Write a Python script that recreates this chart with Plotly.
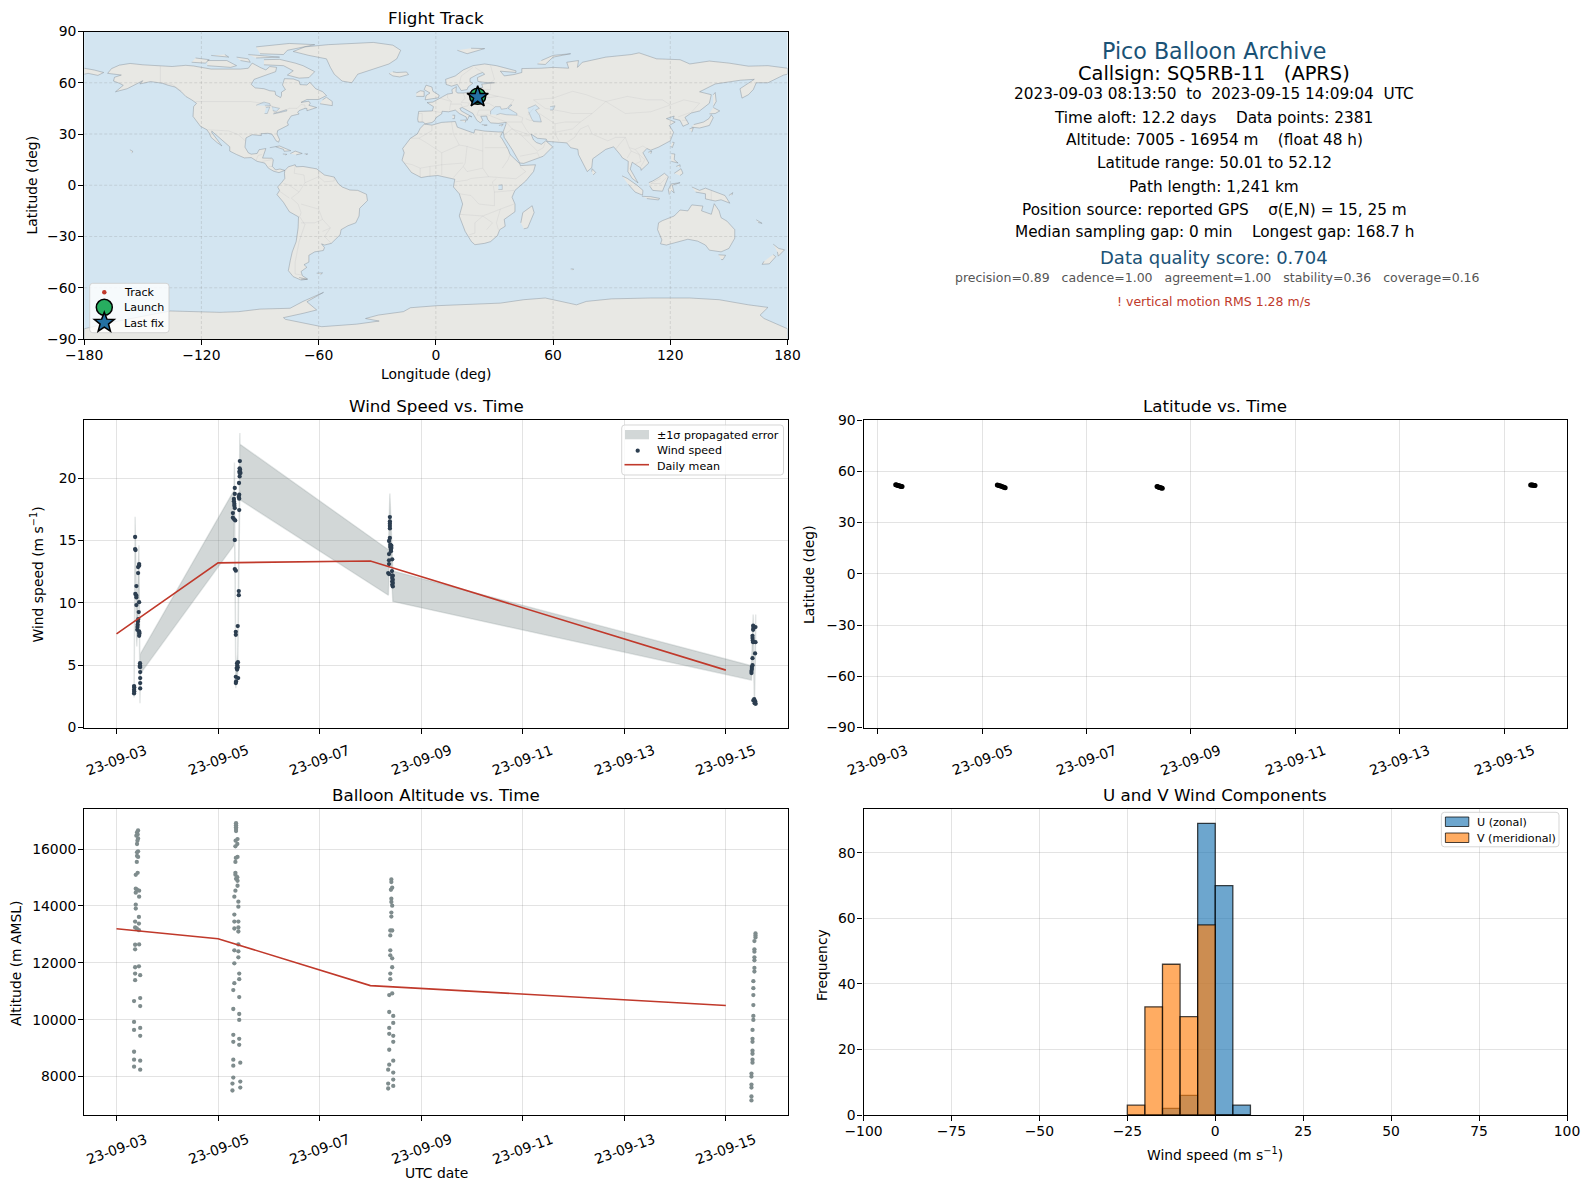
import math
import pandas as pd
import plotly.graph_objects as go

W, H = 1589, 1189
FONT = "DejaVu Sans"
RED = "#C0392B"
NAVY = "#2C3E50"
SLATE = "#7F8C8D"
BLUE = "#1A5276"
OCEAN = "#D3E5F1"
LAND = "#E8E8E4"
GREEN = "#27AE60"
STAR = "#2471A3"
BAND = "rgba(127,140,141,0.35)"
BAND_EDGE = "rgba(127,140,141,0.22)"
U_FILL = "rgba(31,119,180,0.65)"
V_FILL = "rgba(255,127,14,0.65)"
EDGE = "rgba(0,0,0,0.72)"
GRID = "rgba(128,128,128,0.22)"
BASE = pd.Timestamp("2023-09-03")

# ---------- time-series data (hours since 2023-09-03 00:00) ----------
wind_hours = [8.3,8.4,8.3,8.4,8.3, 8.8,8.8,9.0, 9.4,8.9,9.4,9.4,10.7,9.4,10.7,10.2,10.2,10.7,10.5,10.3,10.1,10.0,9.9,9.8,
              11.1,11.1,11.0,11.2,11.2,11.2,11.2,11.2,
              10.7,10.8,10.7,10.8,
              58.3,58.2,58.4,58.1,58.6,58.2,58.2,57.9,55.9,55.9,58.0,57.8,58.0,55.5,55.5,55.7,55.7,55.9,58.0,55.0,55.0,55.5,56.1,55.9,
              55.9,56.4,57.8,57.8,57.3,56.4,56.4,57.4,57.0,57.1,56.8,57.3,57.0,56.4,57.5,56.5,56.4,
              129.2,129.2,129.2,129.2,129.2,129.2,128.8,129.4,129.9,129.4,129.9,129.7,129.7,128.8,130.3,128.8,128.8,130.2,128.4,128.8,130.3,130.6,130.3,130.6,130.3,130.6,130.3,130.6,
              300.9,302.0,301.0,300.9,300.6,300.6,300.7,300.9,302.0,301.8,300.6,300.6,300.3,300.3,300.1,300.1,301.4,301.0,301.9,301.6,302.1]
wind_speed = [2.73,2.89,3.02,3.21,3.32, 15.27,14.3,14.22, 11.34,10.7,10.56,10.43,13.1,9.81,12.97,12.86,12.38,10.05,9.25,8.69,8.5,8.24,8.05,7.83,
              5.16,4.97,4.87,4.84,4.44,3.96,3.56,3.13,
              7.7,7.51,7.35,7.6,
              21.36,20.78,20.67,20.53,20.4,20.4,20.13,19.6,19.2,18.72,18.66,18.48,18.34,18.32,18.13,17.94,17.78,17.59,17.43,17.19,16.82,16.71,16.6,15.03,
              12.7,12.57,10.94,10.61,8.13,7.67,7.43,5.24,5.16,4.97,4.76,4.81,4.65,4.06,3.96,3.69,3.56,
              16.87,16.52,16.34,16.15,15.96,15.19,14.95,14.65,14.57,14.47,14.39,14.25,14.12,13.9,13.48,13.4,13.1,12.54,12.38,12.3,12.17,12.17,11.98,11.84,11.71,11.58,11.44,11.31,
              8.16,8.05,7.97,7.83,7.35,7.17,6.98,6.84,6.84,5.94,5.56,5.0,4.84,4.68,4.52,4.36,2.27,2.17,2.09,1.95,1.9]

band_hours = [8.3,8.8,9.6,10.6,11.1,11.25,55.5,55.75,56.4,57.3,58.3,58.4,128.5,129.2,130.6,300.1,300.9,301.5,302.1]
band_upper = [3.3,16.9,8.3,14.6,3.9,5.9,19.0,21.25,4.2,5.9,23.6,22.7,14.25,18.75,12.55,4.95,9.05,2.6,9.05]
band_lower = [2.4,13.7,6.5,11.5,1.95,4.3,14.6,17.2,3.15,4.4,19.0,18.25,10.6,15.0,10.1,3.8,7.0,1.7,7.0]

daily_dates = ["2023-09-03", "2023-09-05", "2023-09-08", "2023-09-15"]
daily_wind = [7.5, 13.2, 13.35, 4.6]
daily_alt = [13200, 12850, 11200, 10500]

alt_hours = [10.2,9.7,10.0,9.4,10.2,9.9,9.7,10.2,9.7,9.7,10.2,9.6,10.0,9.1,9.1,9.7,10.7,9.1,10.7,9.1,9.1,10.6,8.8,10.6,8.8,9.6,10.6,
             10.7,8.8,8.8,10.6,8.8,8.8,11.2,8.8,11.2,8.3,11.2,8.3,11.2,8.3,11.2,8.3,8.3,11.2,8.3,11.2,
             56.5,56.5,56.5,56.5,56.5,57.2,56.3,57.1,56.2,57.2,56.4,56.2,56.2,56.2,57.1,56.5,57.2,57.2,56.2,55.7,57.6,57.6,55.7,55.7,57.6,55.7,57.6,57.6,
             57.6,55.7,57.6,57.6,55.7,58.0,58.0,55.7,55.2,58.0,55.2,58.0,58.0,55.2,58.0,55.2,58.0,55.2,58.5,55.2,55.2,58.5,54.8,58.5,54.8,
             129.9,129.9,130.3,129.7,129.9,129.9,130.3,129.9,129.9,129.4,130.3,129.4,129.4,129.4,130.3,130.3,129.4,129.4,130.3,128.9,128.9,130.8,130.8,128.9,128.9,130.8,130.8,128.9,130.8,128.9,128.4,130.8,130.8,130.8,128.4,128.4,
             302.0,302.0,302.0,301.5,301.5,301.5,301.5,301.5,301.5,301.5,301.0,301.0,301.0,301.0,301.0,301.0,300.6,300.6,300.6,300.6,300.6,300.6,300.6,300.1,300.1,300.1,300.1,300.1,300.1]
alt_m = [16656,16586,16516,16470,16376,16295,16178,15922,15887,15759,15724,15549,15165,15095,14606,14571,14536,14466,14326,14046,13907,13615,13452,13382,13243,13208,13149,
         12648,12637,12474,11879,11845,11623,11565,11390,10761,10656,10481,9922,9713,9643,9433,8874,8594,8559,8350,8245,
         16912,16842,16772,16703,16633,16353,16295,16178,16097,15724,15689,15549,15165,15095,15013,14955,14885,14710,14536,14326,14151,13976,13697,13452,13452,13208,13243,13103,
         12648,12439,12404,12194,11984,11623,11425,11285,11041,10796,10377,10202,9992,9468,9328,9223,9118,8594,8489,8384,7965,7825,7755,7616,7511,
         14932,14839,14640,14571,14256,14140,14011,13767,13627,13138,13138,12963,12439,12264,12159,11845,11623,11425,10924,10866,10272,10132,9887,9713,9503,9433,9223,8944,8559,8419,8245,8140,7895,7674,7755,7581,
         13033,12963,12893,12765,12474,12392,12194,12089,11821,11693,11355,11110,10866,10516,10132,9992,9643,9328,9223,8909,8804,8594,8489,8105,8000,7720,7616,7301,7161]

lat_hours = [8.3,8.8,9.3,9.8,10.3,10.8,11.2, 55.0,55.6,56.2,56.8,57.4,58.0,58.6, 128.4,128.8,129.2,129.6,130.0,130.4,130.8, 300.1,300.5,300.9,301.3,301.7,302.1]
lat_deg = [52.1,51.9,51.7,51.5,51.3,51.1,51.0, 51.9,51.7,51.5,51.2,50.9,50.6,50.4, 51.0,50.9,50.7,50.5,50.4,50.2,50.1, 52.0,52.0,51.9,51.8,51.7,51.6]

# ---------- histogram ----------
bin_centres = [-22.5, -17.5, -12.5, -7.5, -2.5, 2.5, 7.5]
u_counts = [0, 0, 2, 6, 89, 70, 3]
v_counts = [3, 33, 46, 30, 58, 0, 0]

# ---------- map ----------
track_lon = [19.9, 20.2, 20.5, 20.8, 21.1, 21.3, 21.4]
track_lat = [50.0, 50.3, 50.6, 50.9, 51.3, 51.6, 51.9]
launch_lon, launch_lat = [21.4], [52.1]
last_lon, last_lat = [21.4], [51.7]

land_polys = [
 # North America
 [(-168,65.5),(-166,68.3),(-162,70.3),(-156.5,71.3),(-150,70.5),(-141,69.7),(-135,69.5),(-128,70.2),(-124,69.8),(-115,68),(-108,68),(-100,68),(-96,68.5),(-94,71.5),(-90,69),(-87,67.5),(-85,69.5),(-81.5,69),(-82,66.5),(-87,64.5),(-90,63.5),(-93,62),(-94.5,59),(-92.5,57),(-88,56.5),(-85,55.3),(-82.3,55),(-82,52.9),(-79.5,51.3),(-79,52.5),(-79,54.5),(-77,56),(-78.5,58.7),(-77.5,62.4),(-73,62.2),(-70,61),(-69.5,58.9),(-66,58.7),(-64.5,60.3),(-61.5,56.5),(-58,54.8),(-56,52.5),(-60,50.2),(-66,50.2),(-69,48.5),(-65,49.2),(-64.3,48),(-65,46.8),(-61,45.5),(-63.5,44.6),(-66,43.6),(-66,45),(-67,45),(-70,43.7),(-70.7,42.7),(-70,41.7),(-74,40.6),(-75.5,38),(-76,36.8),(-75.5,35.2),(-78,33.8),(-81,32),(-81.3,30),(-80,26.8),(-80.5,25.2),(-81.8,26),(-82.8,28),(-84,30),(-86,30.4),(-89.5,30.2),(-89.3,29.1),(-91.5,29.5),(-94,29.6),(-97.2,27.7),(-97.7,24),(-97.7,22.3),(-96,19),(-94.5,18.2),(-91.5,18.6),(-90.5,20.8),(-87,21.5),(-87.8,18.2),(-88.7,15.9),(-84,15.8),(-83.2,15),(-83.7,11),(-82,9),(-79.8,9.5),(-77.3,8.7),(-78.2,8.3),(-80.3,7.4),(-83,8.2),(-85.7,10),(-87.6,13),(-91.5,14),(-94.5,16.2),(-98,16),(-102,18),(-105.5,20),(-105.5,22.5),(-109,26),(-112.5,29.5),(-114.7,31.7),(-114.7,30.9),(-112,27),(-110,24),(-109.5,23),(-112,25),(-115,28),(-116,30.5),(-117.2,32.5),(-120.5,34.5),(-122.5,37.5),(-124.3,40.3),(-124,46),(-122.5,48),(-125,50),(-128,52),(-130.3,54.7),(-133.5,57.5),(-137,58.5),(-140,59.7),(-146,60.7),(-151.5,59.3),(-150,61.2),(-153.5,59),(-158,56.5),(-164,54.7),(-160,58.5),(-162,59.7),(-165,61),(-164.5,63.2),(-161,64.5),(-168,65.5)],
 # South America
 [(-77.3,8.6),(-75.5,10.8),(-72,12),(-71.5,10.8),(-68,11),(-64,10.3),(-61,9.6),(-57,6),(-52,4.8),(-50,1),(-48,-1),(-44,-2.8),(-40,-3),(-35.5,-5.3),(-35,-9),(-39,-13.5),(-39.3,-18),(-41,-22),(-45,-23.7),(-48.5,-26),(-49,-29),(-53.5,-34),(-57,-35),(-58.5,-34.3),(-57,-36.5),(-57.6,-38.2),(-62,-39),(-65,-41),(-65,-45),(-67.5,-46.5),(-66,-48),(-69,-50.5),(-68.3,-53),(-65.5,-55),(-69,-55.5),(-73,-53.5),(-75.5,-50),(-74.5,-44),(-73.5,-39),(-71.5,-33),(-70.5,-25),(-70.3,-18.5),(-75,-15.5),(-78,-10),(-81.3,-5.5),(-80,-3),(-81,-1),(-79,1.5),(-77.3,4),(-77.5,7),(-77.3,8.6)],
 # Africa
 [(-5.9,35.8),(-2,35.2),(3,36.8),(10,37.3),(11,34),(15,32.3),(19.5,30.5),(20,32.6),(25,31.7),(32,31.2),(34.2,31.2),(33,28.5),(34,27),(37,21),(38,18),(43,12.5),(43.3,11.5),(51,12),(50,8),(46,2.5),(40.5,-3),(39,-7),(40.5,-11),(40.5,-15.5),(35,-20),(35.5,-24),(32.7,-26),(31.5,-29.5),(28,-33),(25,-34),(20,-34.8),(18.2,-33),(15,-27),(12,-18),(13.7,-11),(12,-5),(9,-1),(9.7,3.5),(6,4.3),(1,5.7),(-4,5.2),(-7.5,4.5),(-12.5,7.5),(-15,11),(-17.3,14.7),(-16.2,19),(-17,21.5),(-13,27.5),(-9.5,30),(-8,33.3),(-5.9,35.8)],
 # Eurasia
 [(-9,37),(-9.3,38.8),(-8.8,43.2),(-1.8,43.5),(-1.2,46),(-4.5,48.4),(-1.5,48.7),(1.5,50.5),(4,52),(6,53.4),(8.5,53.8),(8.2,56),(10.5,57.7),(10.3,55),(11,54),(14,54),(18.5,54.7),(21,55),(21,57),(24,57.2),(23.5,59.2),(28,59.6),(30,60),(25,60.2),(21.5,60.8),(21.3,63),(25,65),(24,66),(21.5,65),(17.5,62.5),(17.5,60.5),(19,59.8),(16.5,57.5),(16,56),(13,55.4),(11,59),(8,58),(5.3,59),(5,62),(10,64),(14,67.5),(19,70),(25,71),(31,70),(41,67),(41,66),(33,66.8),(35,64),(40,64.8),(44,66),(44,68.3),(54,68.5),(60,69),(68,68.5),(67,72),(73,73),(72.5,69),(75,72),(80.5,73.5),(87,75),(100,76.5),(104,77.5),(113,74),(125,73.5),(130,71),(140,72.7),(150,71.5),(160,69.7),(170,70),(180,68.5),(180,65),(178,64.5),(170,60),(164,60),(162.5,56),(160,53),(156.7,51),(155.7,56.5),(163,62),(156,61.5),(143,59.3),(135,54.7),(141,53),(140,48),(135,43.5),(130.7,42.3),(127.5,39.7),(129.4,36),(126.5,34.5),(125,38),(121.5,39),(122,40.5),(118,39),(122.5,37),(119.5,35),(121.7,31),(120,26),(114,22.3),(110,20.5),(108,21.5),(106,19),(109,13),(105,8.7),(105,10),(100.5,13.5),(99.5,9.5),(103.5,1.4),(100.5,4),(98.3,8),(98.5,14),(95.5,16),(94.3,18),(91,22.5),(87,21),(80.3,15.5),(79.8,10.3),(77.5,8),(73,18),(72.7,21),(69,22),(67,24.8),(62,25.2),(57,25.7),(56.5,27),(52,27.5),(48.7,30),(50,26.5),(51.5,25),(54,24),(56.3,26),(59.8,22.5),(55,17),(45,12.8),(43,13),(39,21),(35,28),(34.5,31.3),(35.8,35.5),(36,36.8),(32,36.2),(28,36.5),(26.5,38.5),(26,40.5),(23,40.3),(24,38),(22.8,36.5),(21,38),(19.5,41),(19,42),(13.5,45.5),(12.3,45),(13,43.5),(16,41.8),(18.5,40),(17,40.5),(16,38),(15.5,40),(12,42),(10,44),(6.5,43),(3.2,43.3),(3,41.8),(0,39.5),(-0.5,38),(-2,36.7),(-5.5,36),(-6.5,37),(-9,37)],
 # Chukotka tip west of the date line
 [(-180,68.5),(-175,67.5),(-170,66),(-173,64.3),(-178,65.5),(-180,65)],
 # Greenland
 [(-73,78.3),(-67,81),(-55,82.3),(-32,83.6),(-22,82),(-18,79),(-20,74),(-24,71),(-32,68),(-40,65),(-43,60),(-48,61),(-52,65),(-54,69),(-56,74),(-65,76),(-73,78.3)],
 # Australia
 [(114,-22),(113.5,-26),(115.7,-32),(115,-34.3),(118,-35),(124,-33),(129,-31.6),(134,-32.7),(138,-35),(140,-38),(146,-39),(150,-37),(153,-31),(153,-26),(149,-21),(146,-19),(145,-15),(142.5,-10.8),(141,-17),(136,-15),(136.7,-12.2),(131,-11.5),(129,-15),(125,-14.5),(122,-18),(116,-20.7),(114,-22)],
 # Antarctica
 [(-180,-90),(-180,-84),(-165,-80),(-150,-76.5),(-136,-73.6),(-110.5,-74.4),(-101,-74),(-90,-72.5),(-74.6,-72),(-68,-68),(-57.5,-62.7),(-66,-68.2),(-61,-73),(-68,-75),(-78,-77.5),(-77,-78.5),(-58.4,-82.8),(-40.5,-81.3),(-29,-79.5),(-36,-78),(-29.5,-76),(-16.6,-74),(-13,-71.7),(0.5,-70.5),(33,-69),(45,-67),(56,-66),(68,-69),(72,-70),(77,-68),(90,-66.5),(110,-66),(130,-66),(145,-67),(160,-70),(170,-71.5),(166,-76),(168,-78),(180,-84),(180,-90)],
 # Islands
 [(-88,73.5),(-80,73.7),(-72,71.5),(-68,70),(-62,66.5),(-65,63),(-70,62.7),(-76,64.5),(-73,67),(-78,70),(-88,70.5)],
 [(-117,70),(-105,69),(-102,70),(-107,73),(-117,73)],
 [(-90,77),(-78,76.5),(-76,79),(-62,82.3),(-75,83),(-92,81)],
 [(-125,72),(-118,71.5),(-116,73.5),(-123,74.5)],
 [(-96,76.5),(-80,75),(-92,74.5)],
 [(-115,76),(-106,75),(-108,76.5)],
 [(-100,73),(-95,72),(-96,74),(-102,75)],
 [(-59.3,47.7),(-53,46.6),(-53,49),(-56,51.5),(-58,50)],
 [(-85,22),(-80,23),(-74.2,20.2),(-77.7,19.9),(-78,21),(-82,22.5)],
 [(-74.5,18.5),(-72,20),(-68.4,18.6),(-71.5,17.8)],
 [(-78.3,18.3),(-76.3,18.1),(-77,17.7)],
 [(-67.2,18.4),(-65.6,18.3),(-66.5,17.9)],
 [(-156.6,20.8),(-155,19.7),(-155.7,19)],
 [(-5.5,50),(1.3,51.2),(1.7,52.7),(-1.5,55),(-2,57.5),(-5,58.6),(-6,56),(-3,54),(-5,52.5),(-5.5,50)],
 [(-10,52),(-6,52),(-6,55),(-8,55.3),(-10,54)],
 [(-24,65.5),(-22,64),(-18.5,63.4),(-14,64.8),(-15,66.3),(-20,66),(-22,66.4)],
 [(11,79),(16,77),(25,80),(18,80.2)],
 [(52,71),(56,70.7),(60,75),(69,77),(60,76),(54,73)],
 [(130.9,34),(135,33.5),(140,35),(142,39.5),(141,41.3),(139.8,39),(137,37),(132,35.5)],
 [(140,41.8),(143,42),(145.3,43.5),(142,45.5)],
 [(129.8,33),(131.8,33.7),(131,31)],
 [(142,46),(143.5,49),(143,54.3),(142,53)],
 [(120.2,23),(121,22),(122,25),(121,25.2)],
 [(108.7,19.3),(110.5,20),(110,18.4)],
 [(79.8,8),(80,9.7),(81.8,7.5),(80.5,6)],
 [(43.5,-22),(44.5,-16),(49.3,-12),(50.3,-16),(47,-25),(45,-25.5)],
 [(95.3,5.5),(98,4),(103,0),(106,-3),(105.8,-5.8),(102,-4),(98.5,0.5)],
 [(105.5,-6.5),(110,-6.7),(114.5,-7.7),(114,-8.6),(108,-7.8)],
 [(109,1.5),(111,2.5),(114,4.5),(117,7),(119,5),(117.7,1),(116,-3.5),(111,-3),(109.5,-0.5)],
 [(119.5,-5.5),(119,-2.5),(120.5,0.8),(125,1.5),(121,0),(122,-4.5),(120.5,-3)],
 [(131,-1),(135,-3),(138,-1.7),(145,-5),(148,-6),(150.5,-10.5),(146,-8.5),(143,-9.2),(138,-8),(138,-5),(133,-4)],
 [(150,-6),(152,-4.3),(151.5,-5.8)],
 [(120.5,18.5),(122.3,18.3),(122,15),(124,13),(120.5,14)],
 [(122,7),(125.5,9.7),(126.5,7),(125,5.7)],
 [(123,11),(125,12),(125,10.5)],
 [(172.7,-34.5),(175.5,-37),(178.5,-37.8),(175.3,-41.5),(174.8,-39)],
 [(172.7,-40.6),(174,-41.8),(170.7,-46),(167,-46.3),(168,-44.5)],
 [(144.7,-40.7),(148.3,-41),(147,-43.5),(146,-43.5)],
 [(164,-20.2),(167,-22.3),(165,-21.8)],
 [(-61,-51.5),(-58,-51.3),(-59,-52.3)],
 [(-70,-54),(-66,-55),(-69,-55)],
 [(8.5,41),(9.7,41),(9.5,39),(8.5,39)],
 [(12.5,38),(15.5,38.2),(15,36.7)],
 [(23.5,35.5),(26.3,35.2),(24.7,34.9)],
 [(32.3,35),(34.5,35.6),(33.5,34.6)],
 [(69,-49),(70.5,-49),(70,-49.7)],
]
water_polys = [
 [(28,41.5),(28,43.5),(30.5,46),(33,46),(33.5,44.5),(36.5,45),(38,47),(39,47),(37,45),(41.5,42),(41.5,41),(36,41.3),(33,42),(31,41.2)],
 [(47,45),(51,47),(53,45),(51,44),(53,41),(54,37),(50,37.3),(49,39),(47.5,43)],
 [(-92,46.8),(-88,48.7),(-85,47.8),(-84.7,46.5),(-87.5,46.5)],
 [(-87.7,42),(-86.3,42),(-85,45.8),(-87,45.5)],
 [(-84,46),(-80,45),(-81.7,43.2),(-83.5,43.7)],
 [(-83.3,41.7),(-79,42.8),(-76.2,43.5),(-76.5,44.2),(-79.5,43.5),(-80,43),(-83,42.2)],
 [(32,0),(34,0.3),(34,-2.5),(32,-2.5)],
 [(58.5,46),(61,46.5),(60,44),(58.5,44)],
]
border_lines = [
 [(-141,69.7),(-141,60),(-135,59),(-130,55)],
 [(-123,49),(-95,49),(-89,48),(-84,46.5),(-82.5,42),(-79,43),(-75,45),(-71,45),(-69,47.3),(-67,47),(-67,45)],
 [(-117,32.5),(-106,31.8),(-101,29.5),(-97.5,26)],
 [(-92,14.5),(-91,17.5),(-89,18)], [(-89,14),(-83.5,15)], [(-85.5,11),(-83.7,11)], [(-83,8.2),(-82.6,9.5)],
 [(-72,12),(-72.5,7),(-67.5,6),(-67,1.5),(-70,-4),(-74,-7.5),(-70.5,-11),(-69,-16),(-69.5,-18)],
 [(-78,1),(-75,0),(-70,-4)], [(-80,-3.5),(-78,-5),(-75,-7.5)],
 [(-67,1.5),(-60,5),(-60,8.5)], [(-60,5),(-57,2),(-52,2.5),(-52,4.8)],
 [(-69,-11),(-60,-14),(-58,-20),(-54,-25),(-57,-30),(-53.5,-34)], [(-69,-22),(-62,-22),(-58,-20)], [(-58,-27),(-54,-25)],
 [(-70,-18),(-67,-23),(-70,-33),(-72,-45),(-72,-52),(-68.5,-52.5)],
 [(-8.7,27.5),(-5,25),(3,19),(12,23.5),(15,23),(24,20),(24,31)], [(-13,27.5),(-8.7,27.5),(-2,32),(-2,35)], [(8,37),(9,30),(12,23.5)],
 [(25,22),(37,22)], [(24,20),(24,10),(27,5),(35,4.5),(41,3.8),(46,8),(43,11)], [(34,10),(37,15),(38,18)], [(16,23),(15,13),(14,11),(16,8),(24,10)],
 [(3,19),(3,12),(-3,11),(-8,10),(-12,12),(-16,13)], [(3,12),(14,13)], [(3,6),(3,12)], [(9,4.5),(14,11)], [(-8,4.5),(-8,10)], [(-3,5),(-3,11)],
 [(10,2),(16,3),(18,4),(27,5)], [(12,-5),(18,-6),(22,-11),(30,-12),(30,-4),(29,2),(31,4)], [(12,-17),(24,-18),(33,-14),(40,-11)], [(30,-4),(40,-3)], [(24,-18),(20,-22),(20,-28),(17,-29)],
 [(33,-14),(31,-22),(32,-26)], [(24,-18),(29,-22),(26,-26)],
 [(-1.8,43.5),(3,42.5)], [(-9,42),(-7,42),(-7,37)], [(2,51),(8,49),(7.5,47.5),(7,44)], [(6,53.4),(6,51),(8,49)], [(7.5,47.5),(13,47.5),(13.5,46)], [(14,54),(15,51),(13,48.5),(17,48),(19,48),(22.5,49),(24,51),(23.5,54),(21,55)],
 [(17,48),(16.5,46.5),(13.5,45.8)], [(22.5,48),(27,48),(30,46)], [(22,44),(28,44)], [(22,44),(21,41),(26,41)], [(24,51),(32,52),(40,50),(38,47)], [(24,54),(32,52)], [(28,56),(28,59.5)], [(21,56.3),(28,56)],
 [(28,70),(30,62),(28,60)], [(20,69),(24,66)], [(19,69),(13,64),(12,59)],
 [(26,41.5),(36,37),(44,37),(44.5,39.5),(41.5,41)], [(36,37),(39,33),(35,29.5)], [(39,33),(48,29.5)], [(44,37),(46,33),(48,30)], [(39,33),(44,29),(48,29)], [(44,29),(52,20),(55,22),(56,25)], [(43,17),(52,19),(53,16.5)],
 [(47,41),(50,45)], [(53,42),(61,36),(66,37),(74,37),(80,42),(70,42),(66,43),(56,45),(50,50),(60,51),(70,55),(77,53),(84,50),(87,49)], [(61,36),(61,30),(63,26)], [(46,39),(48,38),(54,37.5)], [(61,31),(70,33),(74,37)], [(67,25),(71,28),(74,33),(78,35),(80,30),(88,26),(92,28),(97,28),(94,24),(92,21)],
 [(80,42),(87,49),(97,42),(110,43),(120,47),(116,50),(108,50),(98,52),(87,49)], [(120,47),(127,50),(135,48),(131,43)], [(124,40),(130,42.5)], [(126,38),(129,38)], [(97,28),(99,22),(102,21),(106,23),(108,21.5)], [(99,22),(100,20),(98,16)], [(102,21),(105,17),(107,15),(105,11)], [(100,20),(104,18),(105,14),(102,12.5)], [(115,4),(110,1),(115,1),(118,4.5)], [(141,-3),(141,-9)],
]

# ---------- axis ticks & text ----------
date_ticks = ["2023-09-03", "2023-09-05", "2023-09-07", "2023-09-09", "2023-09-11", "2023-09-13", "2023-09-15"]
date_tick_labels = ["23-09-03", "23-09-05", "23-09-07", "23-09-09", "23-09-11", "23-09-13", "23-09-15"]
lon_ticks = [-180, -120, -60, 0, 60, 120, 180]
lat_ticks = [-90, -60, -30, 0, 30, 60, 90]
wind_ticks = [0, 5, 10, 15, 20]
alt_ticks = [8000, 10000, 12000, 14000, 16000]
hist_x_ticks = [-100, -75, -50, -25, 0, 25, 50, 75, 100]
hist_y_ticks = [0, 20, 40, 60, 80]

NB = "\u00a0"
info_lines = [
 ("Pico Balloon Archive", 50.7, 22.2, BLUE, 1214),
 (f"Callsign: SQ5RB-11{NB*3}(APRS)", 73, 19.4, "black", 1214),
 (f"2023-09-03 08:13:50{NB*2}to{NB*2}2023-09-15 14:09:04{NB*2}UTC", 94.4, 15.3, "black", 1214),
 (f"Time aloft: 12.2 days{NB*4}Data points: 2381", 117.7, 15.3, "black", 1213),
 (f"Altitude: 7005 - 16954 m{NB*4}(float 48 h)", 140, 15.3, "black", 1214),
 ("Latitude range: 50.01 to 52.12", 163.4, 15.3, "black", 1214),
 ("Path length: 1,241 km", 186.7, 15.3, "black", 1214),
 (f"Position source: reported GPS{NB*4}σ(E,N) = 15, 25 m", 210, 15.3, "black", 1214),
 (f"Median sampling gap: 0 min{NB*4}Longest gap: 168.7 h", 232.4, 15.3, "black", 1214),
 ("Data quality score: 0.704", 257.7, 18, BLUE, 1214),
 (f"precision=0.89{NB*3}cadence=1.00{NB*3}agreement=1.00{NB*3}stability=0.36{NB*3}coverage=0.16", 278, 12.5, "#555555", 1217.5),
 ("! vertical motion RMS 1.28 m/s", 301.4, 12.5, RED, 1213),
]

# ---------- helpers ----------
def px(x): return x / W
def py(y): return 1 - y / H
def when(hours): return [(BASE + pd.Timedelta(hours=h)).isoformat() for h in hours]
def flatten(polys, idx):
    out = []
    for poly in polys:
        out += [p[idx] for p in poly] + [None]
    return out

fig = go.Figure()

# map
fig.add_trace(go.Scatter(x=flatten(land_polys, 0), y=flatten(land_polys, 1), mode="lines", fill="toself", fillcolor=LAND,
                         line=dict(color="rgba(120,130,140,0.5)", width=0.8), hoverinfo="skip", showlegend=False, xaxis="x", yaxis="y"))
fig.add_trace(go.Scatter(x=flatten(water_polys, 0), y=flatten(water_polys, 1), mode="lines", fill="toself", fillcolor=OCEAN,
                         line=dict(color="rgba(120,130,140,0.45)", width=0.7), hoverinfo="skip", showlegend=False, xaxis="x", yaxis="y"))
fig.add_trace(go.Scatter(x=flatten(border_lines, 0), y=flatten(border_lines, 1), mode="lines",
                         line=dict(color="rgba(150,155,160,0.16)", width=0.8), hoverinfo="skip", showlegend=False, xaxis="x", yaxis="y"))
fig.add_trace(go.Scatter(x=track_lon, y=track_lat, mode="markers", name="Track", marker=dict(color=RED, size=4), showlegend=False, xaxis="x", yaxis="y"))
fig.add_trace(go.Scatter(x=launch_lon, y=launch_lat, mode="markers", name="Launch",
                         marker=dict(color=GREEN, size=16, symbol="circle", line=dict(color="black", width=1.5)), showlegend=False, xaxis="x", yaxis="y"))
fig.add_trace(go.Scatter(x=last_lon, y=last_lat, mode="markers", name="Last fix",
                         marker=dict(color=STAR, size=16, symbol="star", line=dict(color="black", width=1.5)), showlegend=False, xaxis="x", yaxis="y"))

# wind
fig.add_trace(go.Scatter(x=when(band_hours) + when(band_hours[::-1]), y=band_upper + band_lower[::-1], mode="lines", fill="toself",
                         fillcolor=BAND, line=dict(color=BAND_EDGE, width=1.4), name="±1σ propagated error", showlegend=False, xaxis="x2", yaxis="y2"))
fig.add_trace(go.Scatter(x=when(wind_hours), y=wind_speed, mode="markers", name="Wind speed", marker=dict(color=NAVY, size=4.3), showlegend=False, xaxis="x2", yaxis="y2"))
fig.add_trace(go.Scatter(x=daily_dates, y=daily_wind, mode="lines", name="Daily mean", line=dict(color=RED, width=1.6), showlegend=False, xaxis="x2", yaxis="y2"))

# latitude
fig.add_trace(go.Scatter(x=when(lat_hours), y=lat_deg, mode="markers", marker=dict(color="black", size=5), showlegend=False, xaxis="x3", yaxis="y3"))

# altitude
fig.add_trace(go.Scatter(x=when(alt_hours), y=alt_m, mode="markers", marker=dict(color=SLATE, size=4.3), showlegend=False, xaxis="x4", yaxis="y4"))
fig.add_trace(go.Scatter(x=daily_dates, y=daily_alt, mode="lines", line=dict(color=RED, width=1.6), showlegend=False, xaxis="x4", yaxis="y4"))

# histogram
edge = dict(color=EDGE, width=1.3)
fig.add_trace(go.Bar(x=bin_centres, y=u_counts, width=5, name="U (zonal)", marker=dict(color=U_FILL, line=edge), showlegend=False, xaxis="x5", yaxis="y5"))
fig.add_trace(go.Bar(x=bin_centres, y=v_counts, width=5, name="V (meridional)", marker=dict(color=V_FILL, line=edge), showlegend=False, xaxis="x5", yaxis="y5"))

def ax(kind, lo, hi, **kw):
    base = dict(domain=[lo, hi], showline=True, mirror=True, linecolor="black", linewidth=1.1, ticks="outside",
                ticklen=5, tickwidth=1.1, tickcolor="black", showgrid=True, gridcolor=GRID, gridwidth=1, zeroline=False,
                ticklabelstandoff=-2 if kind == "x" else -1,
                tickfont=dict(family=FONT, size=13.9, color="black"))
    base.update(kw)
    return base

L1, R1, L2, R2 = px(84.2), px(787.5), px(863.5), px(1567)
T1, B1 = py(339), py(31.5)
T2, B2 = py(727.5), py(420)
T3, B3 = py(1115), py(808.7)
wind_range = ["2023-09-02 08:44", "2023-09-16 05:08"]
lat_range = ["2023-09-02 17:30", "2023-09-16 04:48"]

fig.update_layout(
    width=W, height=H, margin=dict(l=0, r=0, t=0, b=0, autoexpand=False), paper_bgcolor="white", plot_bgcolor="white",
    font=dict(family=FONT, size=13.9, color="black"), barmode="overlay", showlegend=False,
    xaxis=ax("x", L1, R1, range=[-180, 180], tickvals=lon_ticks, showgrid=False, anchor="y"),
    yaxis=ax("y", T1, B1, range=[-90, 90], tickvals=lat_ticks, showgrid=False, anchor="x"),
    xaxis2=ax("x", L1, R1, type="date", range=wind_range, tickvals=date_ticks, showticklabels=False, anchor="y2"),
    yaxis2=ax("y", T2, B2, range=[0, 24.65], tickvals=wind_ticks, anchor="x2"),
    xaxis3=ax("x", L2, R2, type="date", range=lat_range, tickvals=date_ticks, showticklabels=False, anchor="y3"),
    yaxis3=ax("y", T2, B2, range=[-90, 90], tickvals=lat_ticks, anchor="x3"),
    xaxis4=ax("x", L1, R1, type="date", range=wind_range, tickvals=date_ticks, showticklabels=False, anchor="y4"),
    yaxis4=ax("y", T3, B3, range=[6650, 17420], tickvals=alt_ticks, tickformat="d", anchor="x4"),
    xaxis5=ax("x", L2, R2, range=[-100, 100], tickvals=hist_x_ticks, anchor="y5"),
    yaxis5=ax("y", T3, B3, range=[0, 93.45], tickvals=hist_y_ticks, anchor="x5"),
)

# ocean background and map grid above the land
MAP_GRID = dict(color="rgba(128,128,128,0.24)", width=0.9, dash="3px,2px")
shapes = [dict(type="rect", xref="x domain", yref="y domain", x0=0, x1=1, y0=0, y1=1, fillcolor=OCEAN, line_width=0, layer="below")]
shapes += [dict(type="line", xref="x", yref="y domain", x0=v, x1=v, y0=0, y1=1, line=MAP_GRID, layer="above") for v in lon_ticks[1:-1]]
shapes += [dict(type="line", xref="x domain", yref="y", x0=0, x1=1, y0=v, y1=v, line=MAP_GRID, layer="above") for v in lat_ticks[1:-1]]

annotations = []
def note(text, x, y, size, color="black", angle=0, anchor="center"):
    annotations.append(dict(text=text, x=px(x), y=py(y), xref="paper", yref="paper", xanchor=anchor, yanchor="middle",
                            showarrow=False, textangle=angle, font=dict(family=FONT, size=size, color=color)))

# legends, laid out to the reference's tight rows
def legend_box(x0, y0, x1, y1, r=3):
    pts = [f"M {px(x0+r)} {py(y0)}", f"L {px(x1-r)} {py(y0)}", f"Q {px(x1)} {py(y0)} {px(x1)} {py(y0+r)}",
           f"L {px(x1)} {py(y1-r)}", f"Q {px(x1)} {py(y1)} {px(x1-r)} {py(y1)}", f"L {px(x0+r)} {py(y1)}",
           f"Q {px(x0)} {py(y1)} {px(x0)} {py(y1-r)}", f"L {px(x0)} {py(y0+r)}", f"Q {px(x0)} {py(y0)} {px(x0+r)} {py(y0)} Z"]
    shapes.append(dict(type="path", path=" ".join(pts), xref="paper", yref="paper", fillcolor="rgba(255,255,255,0.8)",
                       line=dict(color="rgba(204,204,204,0.8)", width=1), layer="above"))
def legend_swatch(x0, y0, x1, y1, fill, line=None, width=0):
    shapes.append(dict(type="rect", xref="paper", yref="paper", x0=px(x0), x1=px(x1), y0=py(y0), y1=py(y1), fillcolor=fill,
                       line=dict(color=line or "rgba(0,0,0,0)", width=width), layer="above"))
def legend_dot(cx, cy, d, fill, line=None, width=0):
    shapes.append(dict(type="circle", xref="paper", yref="paper", x0=px(cx-d/2), x1=px(cx+d/2), y0=py(cy-d/2), y1=py(cy+d/2), fillcolor=fill,
                       line=dict(color=line or "rgba(0,0,0,0)", width=width), layer="above"))
def legend_line(x0, x1, y, color, width):
    shapes.append(dict(type="line", xref="paper", yref="paper", x0=px(x0), x1=px(x1), y0=py(y), y1=py(y), line=dict(color=color, width=width), layer="above"))
def legend_star(cx, cy, r, fill):
    pts = []
    for i in range(10):
        rad = r if i % 2 == 0 else r * 0.42
        a = math.radians(-90 + 36 * i)
        pts.append((cx + rad * math.cos(a), cy + rad * math.sin(a)))
    path = "M " + " L ".join(f"{px(x)} {py(y)}" for x, y in pts) + " Z"
    shapes.append(dict(type="path", path=path, xref="paper", yref="paper", fillcolor=fill, line=dict(color="black", width=1.5), layer="above"))

legend_box(89.7, 283.3, 169, 332.7)
legend_dot(104.3, 292.3, 4.5, RED)
legend_dot(104.3, 307.3, 16, GREEN, "black", 1.5)
legend_star(104.3, 322.7, 10.5, STAR)
note("Track", 121.5, 292.5, 11.1, anchor="left")
note("Launch", 122, 308, 11.1, anchor="left")
note("Last fix", 121.5, 323.3, 11.1, anchor="left")

legend_box(621.7, 425, 783.5, 475)
legend_swatch(625, 430, 649, 439.3, BAND)
legend_dot(637.7, 450.7, 4.3, NAVY)
legend_line(624.5, 649, 464.7, RED, 1.6)
note("±1σ propagated error", 654.8, 435.3, 11.1, anchor="left")
note("Wind speed", 654.8, 450.3, 11.1, anchor="left")
note("Daily mean", 654.8, 466, 11.1, anchor="left")

legend_box(1441.4, 812.3, 1559, 846.8)
legend_swatch(1445.4, 817, 1468.8, 826.5, U_FILL, EDGE, 1)
legend_swatch(1445.4, 833, 1468.8, 842.5, V_FILL, EDGE, 1)
note("U (zonal)", 1474.5, 822, 11.1, anchor="left")
note("V (meridional)", 1474.5, 838, 11.1, anchor="left")

for text, y, size, color, x in info_lines:
    note(text, x, y, size, color)
for text, x, y in [("Flight Track", 436, 18.3), ("Wind Speed vs. Time", 436, 406), ("Latitude vs. Time", 1214.5, 406),
                   ("Balloon Altitude vs. Time", 436, 794.5), ("U and V Wind Components", 1214.5, 794.5)]:
    note(text, x, y, 16.7)
note("Longitude (deg)", 436, 374, 13.9)
note("Latitude (deg)", 31.5, 185, 13.9, angle=-90)
note("Wind speed (m s<sup>−1</sup>)", 37.5, 575, 13.9, angle=-90)
note("Latitude (deg)", 809, 575, 13.9, angle=-90)
note("Altitude (m AMSL)", 16, 963, 13.9, angle=-90)
note("Frequency", 822, 965, 13.9, angle=-90)
note("UTC date", 436, 1173, 13.9)
note("Wind speed (m s<sup>−1</sup>)", 1215, 1154, 13.9)

for axis_name, y_px in [("x2", 760), ("x3", 760), ("x4", 1148.5)]:
    for d, label in zip(date_ticks, date_tick_labels):
        annotations.append(dict(text=label, x=d, xref=axis_name, y=py(y_px), yref="paper", xanchor="center", yanchor="middle",
                                showarrow=False, textangle=-20, font=dict(family=FONT, size=13.9, color="black")))
fig.update_layout(annotations=annotations, shapes=shapes)

fig.write_html("out.html", config={"displayModeBar": False}, post_script="document.body.style.margin='0';")
